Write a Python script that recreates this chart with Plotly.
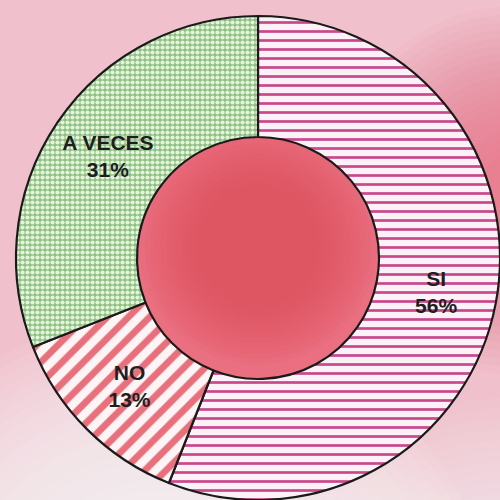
import plotly.graph_objects as go

labels = ["SI", "NO", "A VECES"]
values = [56, 13, 31]
pattern_shapes = ["-", "/", "."]
fg_colors = ["#c9478a", "#e8707c", "#e4f4db"]
bg_colors = ["#fcf1f6", "#fdf4f5", "#8fc083"]

fig = go.Figure()

shapes = []


def circ(cx, cy, r, color, op):
    return dict(type="circle", xref="paper", yref="paper", layer="below",
                x0=cx - r, x1=cx + r, y0=cy - r, y1=cy + r,
                fillcolor=color, opacity=op, line_width=0)


# red halo at right side
for k in range(20):
    r = 0.38 - k * 0.016
    shapes.append(circ(1.03, 0.64, r, "#e55a6e", 0.045))
# whitish fade towards the bottom
for k in range(22):
    r = 0.70 - k * 0.02
    shapes.append(circ(0.30, -0.32, r, "#ffffff", 0.07))
for k in range(14):
    r = 0.46 - k * 0.022
    shapes.append(circ(1.0, -0.25, r, "#ffffff", 0.06))
# hole fill with soft radial gradient
shapes.append(circ(0.5, 0.5, 0.25, "#ea7081", 1.0))
for k in range(12):
    r = 0.245 - k * 0.011
    shapes.append(circ(0.5, 0.525, r, "#e0495e", 0.09))

fig.add_trace(go.Pie(
    labels=labels,
    values=values,
    hole=0.5,
    sort=False,
    direction="clockwise",
    rotation=0,
    texttemplate="<b>%{label}</b><br><b>%{value}%</b>",
    textposition="inside",
    insidetextorientation="horizontal",
    textfont=dict(family="Liberation Sans, Arial, sans-serif", size=21, color="#1e1e1e"),
    marker=dict(
        colors=bg_colors,
        line=dict(color="#1a1a1a", width=2.2),
        pattern=dict(shape=pattern_shapes, fgcolor=fg_colors, bgcolor=bg_colors,
                     size=[9, 15, 5], solidity=[0.3, 0.45, 0.55], fillmode="replace"),
    ),
    showlegend=False,
    hoverinfo="skip",
))

fig.update_layout(
    width=500, height=500,
    margin=dict(l=16, r=0, t=16, b=0),
    paper_bgcolor="#f0c1cc",
    plot_bgcolor="rgba(0,0,0,0)",
    shapes=shapes,
)

fig.write_html(
    "out.html",
    config={"displayModeBar": False},
    post_script="document.body.style.margin='0';document.body.style.background='#f0c1cc';",
)
